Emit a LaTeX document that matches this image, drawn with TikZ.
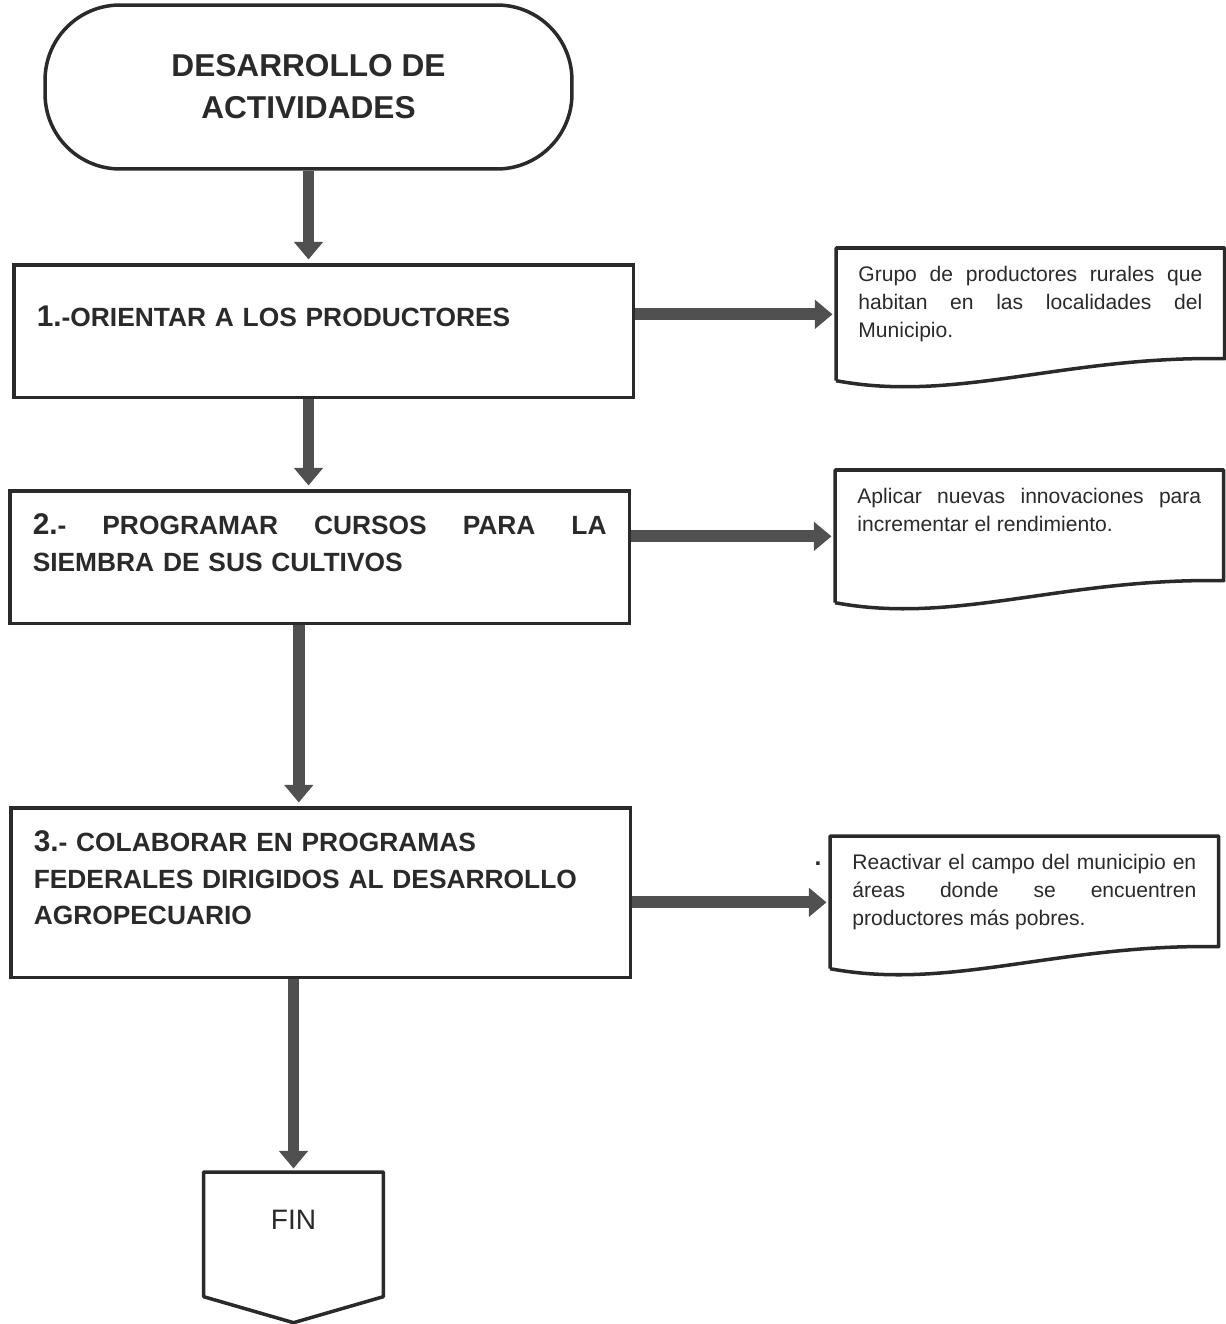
\documentclass[tikz,border=0pt]{standalone}
\usepackage{fontspec}
\setmainfont{Liberation Sans}
\usepackage{tikz}
\usetikzlibrary{calc,arrows.meta}

\definecolor{ink}{HTML}{2A2A2A}
\definecolor{arrowgray}{HTML}{505050}

\newcommand{\numsz}{\fontsize{17}{21}\selectfont}
\newcommand{\jline}[2][\hsize]{\makebox[#1][s]{\spaceskip=0pt\xspaceskip=0pt\relax #2}}

\tikzset{
	startstop/.style={draw=ink, line width=2pt, rounded corners=1.5cm, minimum width=10.54cm, minimum height=3.28cm, align=center, text=ink, font=\bfseries\fontsize{18}{24}\selectfont},
	process/.style={draw=ink, line width=2pt, anchor=north west, text width=11.48cm, inner xsep=0.46cm, minimum height=2.66cm, align=left, text depth=0.6cm, text=ink, font=\bfseries\fontsize{15}{21}\selectfont},
	docbox/.style={anchor=north west, inner xsep=0.44cm, inner ysep=0.26cm, text=ink, font=\fontsize{12}{16}\selectfont},
	docline/.style={draw=ink, line width=2pt, line join=round},
	endbox/.style={anchor=north, minimum width=3.58cm, minimum height=2.48cm, text depth=0.6cm, text=ink, font=\fontsize{16}{20}\selectfont},
	flow/.style={draw=arrowgray, line width=6.8pt, -{Triangle[width=16pt,length=10pt]}, shorten >=2pt}
}

\begin{document}
\begin{tikzpicture}[x=0.02cm, y=0.02cm]
	\useasboundingbox (0,0) rectangle (1225,-1324);

	%start
	\node[startstop] (term) at (308.5,-87) {DESARROLLO DE\\ACTIVIDADES};

	%steps
	\node[process] (box1) at (12,-263) {{\numsz 1.}-ORIENTAR A LOS PRODUCTORES};
	\node[process, text depth=1.34cm] (box2) at (8,-489) {\jline[11.48cm]{{\numsz 2.}- PROGRAMAR CURSOS PARA LA}\\SIEMBRA DE SUS CULTIVOS};
	\node[process, minimum height=3.4cm, text depth=2.08cm] (box3) at (9,-806) {{\numsz 3.}- COLABORAR EN PROGRAMAS\\FEDERALES DIRIGIDOS AL DESARROLLO\\AGROPECUARIO};

	%documents - text
	\node[docbox] (doc1) at (836,-248) {\parbox[c][2.12cm][t]{6.88cm}{\strut\jline{Grupo de productores rurales que}\\\jline{habitan en las localidades del}\\Municipio.}};
	\node[docbox] (doc2) at (835,-470) {\parbox[c][2.12cm][t]{6.88cm}{\strut\jline{Aplicar nuevas innovaciones para}\\incrementar el rendimiento.}};
	\node[docbox] (doc3) at (830,-836) {\parbox[c][2.12cm][t]{6.88cm}{\strut\jline{Reactivar el campo del municipio en}\\\jline{áreas donde se encuentren}\\productores más pobres.}};
	\node[text=ink, font=\bfseries\fontsize{14}{16}\selectfont] (dot) at (818,-864) {.};

	%documents - outline with wavy bottom
	\foreach \d in {doc1,doc2,doc3}
		\draw[docline] (\d.south west) -- (\d.north west) -- (\d.north east) -- ([yshift=0.44cm]\d.south east)
			.. controls ([xshift=-3.2cm,yshift=0.5cm]\d.south east) and ([xshift=2.4cm,yshift=-0.45cm]\d.south west) .. (\d.south west);

	%end
	\node[endbox] (fin) at (293.5,-1172) {FIN};
	\draw[docline] (fin.north west) -- (fin.north east) -- (fin.south east) -- ([yshift=-0.52cm]fin.south) -- (fin.south west) -- cycle;

	%arrows - down
	\draw[flow] (term.south) -- (term.south |- box1.north);
	\draw[flow] (box1.south -| term.south) -- (box2.north -| term.south);
	\draw[flow] ([xshift=3]box2.south -| fin.north) -- ([xshift=3]box3.north -| fin.north);
	\draw[flow] (box3.south -| fin.north) -- (fin.north);

	%arrows - right
	\draw[flow] (box1.east |- doc1.west) -- (doc1.west);
	\draw[flow] (box2.east |- doc2.west) -- (doc2.west);
	\draw[flow] (box3.east |- doc3.west) -- (doc3.west);
\end{tikzpicture}
\end{document}
